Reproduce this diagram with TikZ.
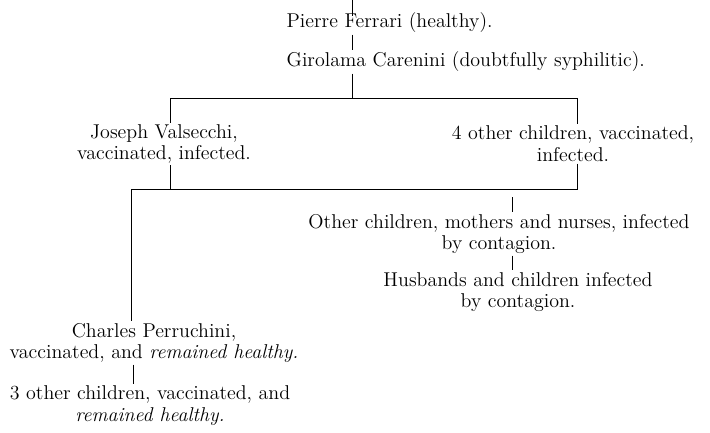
\documentclass[tikz,border=0pt]{standalone}
\usetikzlibrary{positioning}

\tikzset{
  entry/.style={inner sep=1pt, align=center, font=\fontsize{14.2}{15.5}\selectfont},
  link/.style={line width=0.65pt},
}

\begin{document}
\begin{tikzpicture}[x=0.025cm,y=-0.025cm]
  \useasboundingbox (0,0) rectangle (710,433);
  % people
  \node[entry,anchor=base west] (pierre) at (285,28) {Pierre Ferrari (healthy).};
  \node[entry,anchor=base west] (girolama) at (285,67) {Girolama Carenini (doubtfully syphilitic).};
  \node[entry] (joseph) at (164,144) {Joseph Valsecchi,\\vaccinated, infected.};
  \node[entry] (four) at (573,144) {4 other children, vaccinated,\\infected.};
  \node[entry] (others) at (499,234) {Other children, mothers and nurses, infected\\by contagion.};
  \node[entry] (husbands) at (518,292) {Husbands and children infected\\by contagion.};
  \node[entry] (charles) at (154,343) {Charles Perruchini,\\vaccinated, and \textit{remained healthy.}};
  \node[entry] (three) at (150,406) {3 other children, vaccinated, and\\\textit{remained healthy.}};
  % where the lines run
  \coordinate (top) at (352,0);
  \coordinate (fork1) at (352,98);
  \coordinate (fork2) at (170,189);
  \coordinate (dropL) at (170,0);
  \coordinate (dropR) at (577,0);
  \coordinate (dropS) at (131,0);
  \coordinate (dropT) at (133,0);
  \coordinate (gap) at (512,197);
  % lines
  \draw[link] (top) -- ([yshift=-3pt]pierre.north -| top);
  \draw[link] (pierre.south -| top) -- (girolama.north -| top);
  \draw[link] (girolama.south -| top) -- (fork1);
  \draw[link] (joseph.north -| dropL) -- (dropL |- fork1) -- (dropR |- fork1) -- (four.north -| dropR);
  \draw[link] (joseph.south -| dropL) -- (fork2);
  \draw[link] (four.south -| dropR) -- (dropR |- fork2) -- (dropS |- fork2) -- (charles.north -| dropS);
  \draw[link] (gap) -- (others.north -| gap);
  \draw[link] (others.south -| gap) -- (husbands.north -| gap);
  \draw[link] (charles.south -| dropT) -- (three.north -| dropT);
\end{tikzpicture}
\end{document}
